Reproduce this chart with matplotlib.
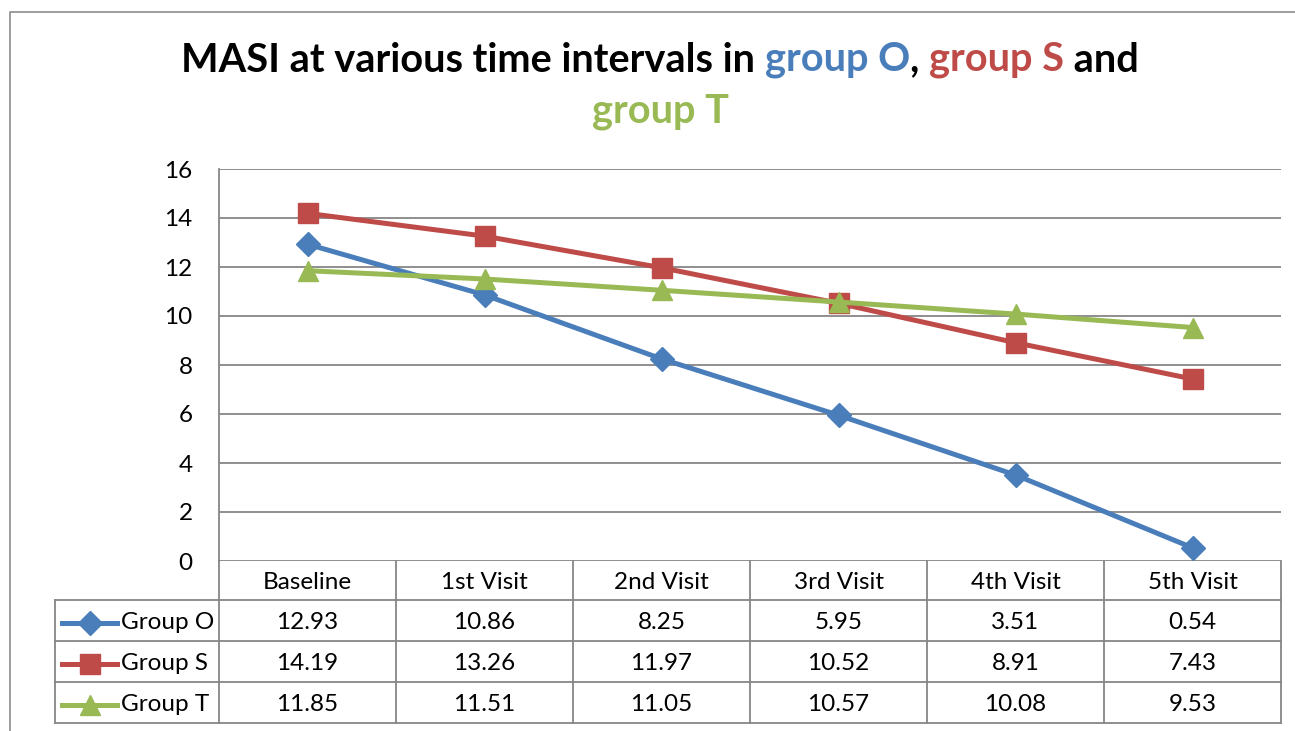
import matplotlib
matplotlib.use("Agg")
import matplotlib.pyplot as plt
from matplotlib.lines import Line2D

categories = ["Baseline", "1st Visit", "2nd Visit", "3rd Visit", "4th Visit", "5th Visit"]
series_names = ["Group O", "Group S", "Group T"]
group_o = [12.93, 10.86, 8.25, 5.95, 3.51, 0.54]
group_s = [14.19, 13.26, 11.97, 10.52, 8.91, 7.43]
group_t = [11.85, 11.51, 11.05, 10.57, 10.08, 9.53]
y_ticks = [0, 2, 4, 6, 8, 10, 12, 14, 16]

colors = ["#4A7EBB", "#BE4B48", "#98B954"]
markers = ["D", "s", "^"]
msizes = [12, 14, 14]
values = [group_o, group_s, group_t]

W, H = 1295, 731
fig = plt.figure(figsize=(W / 100, H / 100), dpi=100)
FONT = "Lato"
GRID = "#868686"

ov = fig.add_axes([0, 0, 1, 1])
ov.set_xlim(0, W)
ov.set_ylim(H, 0)
ov.axis("off")

L, R, T, B = 219, 1281, 169, 561
ax = fig.add_axes([L / W, 1 - B / H, (R - L) / W, (B - T) / H])
n = len(categories)
xs = list(range(n))
ax.set_xlim(-0.5, n - 0.5)
ax.set_ylim(0, 16)
ax.set_yticks(y_ticks)
ax.set_yticklabels([str(v) for v in y_ticks], fontsize=17.5, family=FONT)
ax.tick_params(axis="y", length=0, pad=19)
ax.set_xticks([])
for sp in ["top", "right", "bottom"]:
    ax.spines[sp].set_visible(False)
ax.spines["left"].set_color(GRID)
ax.spines["left"].set_linewidth(1.3)
ax.grid(axis="y", color=GRID, linewidth=1.3)
ax.set_axisbelow(True)
ax.patch.set_alpha(0)

for vals, c, m, ms in zip(values, colors, markers, msizes):
    ax.plot(xs, vals, color=c, linewidth=3.6, marker=m, markersize=ms,
            markerfacecolor=c, markeredgecolor=c, zorder=3, clip_on=False)

# chart border
ov.plot([10, 10, W + 5], [H + 5, 12, 12], color="#8c8c8c", linewidth=1.2)

# title
title_parts = [("MASI at various time intervals in ", "black"),
               ("group O", colors[0]), (", ", "black"),
               ("group S", colors[1]), (" and", "black")]
TS = 28.6
texts = []
for s, c in title_parts:
    t = ov.text(0, 60, s, ha="left", va="center", fontsize=TS,
                fontweight="bold", family=FONT, color=c)
    texts.append(t)
fig.canvas.draw()
renderer = fig.canvas.get_renderer()
widths = [t.get_window_extent(renderer).width for t in texts]
total = sum(widths)
start = 660 - total / 2
for t, w in zip(texts, widths):
    t.set_x(start)
    start += w
ov.text(660, 112, "group T", ha="center", va="center", fontsize=TS,
        fontweight="bold", family=FONT, color=colors[2])

# data table
col_edges = [L + i * (R - L) / n for i in range(n + 1)]
row_edges = [561, 600, 641, 682, 723]
tl = dict(color=GRID, linewidth=1.3)
for xe in col_edges:
    ov.plot([xe, xe], [row_edges[0], row_edges[-1]], **tl)
for ye in row_edges[1:]:
    ov.plot([55, R], [ye, ye], **tl)
ov.plot([55, 55], [row_edges[1], row_edges[-1]], **tl)

FS = 17.5
for i, cat in enumerate(categories):
    cx = (col_edges[i] + col_edges[i + 1]) / 2
    ov.text(cx, (row_edges[0] + row_edges[1]) / 2 + 2, cat, ha="center",
            va="center", fontsize=FS, family=FONT)
for r, (name, vals, c, m, ms) in enumerate(zip(series_names, values, colors, markers, msizes)):
    cy = (row_edges[r + 1] + row_edges[r + 2]) / 2 + 2
    ov.add_line(Line2D([62, 117], [cy, cy], color=c, linewidth=3.6))
    ov.add_line(Line2D([89.5], [cy], color=c, marker=m, markersize=ms,
                       markerfacecolor=c, markeredgecolor=c))
    ov.text(121, cy, name, ha="left", va="center", fontsize=FS, family=FONT)
    for i, v in enumerate(vals):
        cx = (col_edges[i] + col_edges[i + 1]) / 2
        ov.text(cx, cy, f"{v:.2f}", ha="center", va="center", fontsize=FS,
                family=FONT)

fig.savefig("out.png", dpi=100)
